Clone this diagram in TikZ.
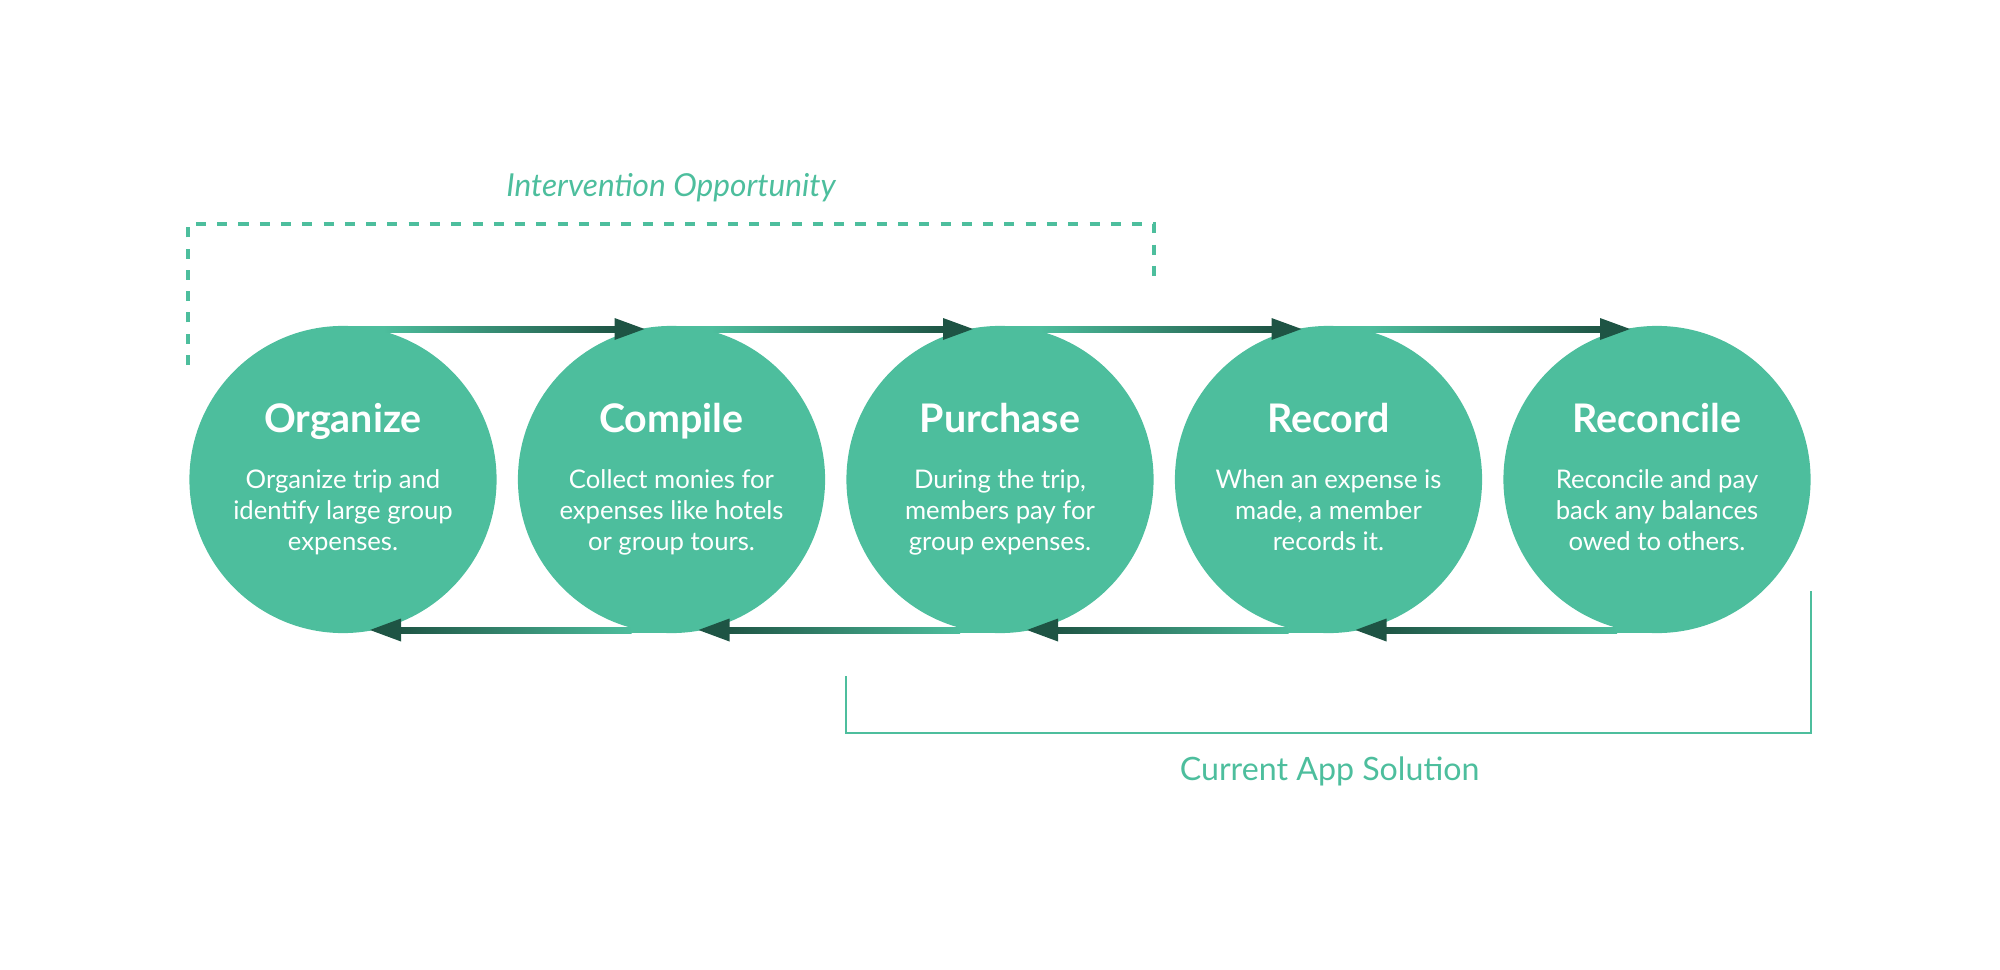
\documentclass[tikz,border=0pt]{standalone}
\usepackage{fontspec}
\setmainfont{Lato}
\usetikzlibrary{calc}
\definecolor{circ}{RGB}{77,190,157}
\definecolor{dark}{RGB}{30,84,68}
\begin{document}
\begin{tikzpicture}[x=0.01cm, y=-0.01cm,
  stage/.style={circle, fill=circ, minimum size=3.07cm, inner sep=0pt},
  ttl/.style={text=white, font=\fontsize{11.2pt}{13pt}\selectfont\bfseries, anchor=base, inner sep=0pt},
  body/.style={text=white, font=\fontsize{7.3pt}{8.8pt}\selectfont, align=center, anchor=north, inner sep=0pt},
  lbl/.style={text=circ, anchor=base, inner sep=0pt},
  bracket/.style={draw=circ, line width=0.8pt},
  dashbracket/.style={draw=circ, line width=1pt, dash pattern=on 2.85pt off 3.2pt}
]
\useasboundingbox (0,0) rectangle (2000,970);

% stages
\node[stage] (o) at (343,479.5) {};
\node[stage] (c) at (671.5,479.5) {};
\node[stage] (p) at (1000,479.5) {};
\node[stage] (r) at (1328.5,479.5) {};
\node[stage] (x) at (1657,479.5) {};

% arrows
\foreach \a/\b in {o/c, c/p, p/r, r/x} {
  \fill[circ] ($(\a.center)+(0,-153.5)$) rectangle ($(\a.center)+(40,-147.5)$);
  \shade[left color=circ, right color=dark] ($(\a.center)+(40,-153.5)$) rectangle ($(\b.center)+(-55,-147.5)$);
  \fill[dark] ($(\b.center)+(-27,-150.5)$) -- ($(\b.center)+(-57,-161.5)$) -- ($(\b.center)+(-57,-139.5)$) -- cycle;
  \fill[circ] ($(\b.center)+(-40,147.5)$) rectangle ($(\b.center)+(0,153.5)$);
  \shade[left color=dark, right color=circ] ($(\a.center)+(55,147.5)$) rectangle ($(\b.center)+(-40,153.5)$);
  \fill[dark] ($(\a.center)+(27,150.5)$) -- ($(\a.center)+(58,139)$) -- ($(\a.center)+(58,162)$) -- cycle;
}

% titles
\node[ttl] (ot) at ($(o.center)+(0,-47.5)$) {Organize};
\node[ttl] (ct) at ($(c.center)+(0,-47.5)$) {Compile};
\node[ttl] (pt) at ($(p.center)+(0,-47.5)$) {Purchase};
\node[ttl] (rt) at ($(r.center)+(0,-47.5)$) {Record};
\node[ttl] (xt) at ($(x.center)+(0,-47.5)$) {Reconcile};

% bodies
\node[body] (ob) at ($(o.center)+(0,-11.5)$) {\rule{0pt}{0.2cm}Organize trip and\\identify large group\\expenses.};
\node[body] (cb) at ($(c.center)+(0,-11.5)$) {\rule{0pt}{0.2cm}Collect monies for\\expenses like hotels\\or group tours.};
\node[body] (pb) at ($(p.center)+(0,-11.5)$) {\rule{0pt}{0.2cm}During the trip,\\members pay for\\group expenses.};
\node[body] (rb) at ($(r.center)+(0,-11.5)$) {\rule{0pt}{0.2cm}When an expense is\\made, a member\\records it.};
\node[body] (xb) at ($(x.center)+(0,-11.5)$) {\rule{0pt}{0.2cm}Reconcile and pay\\back any balances\\owed to others.};

% brackets
\coordinate (d1) at (188,365);
\coordinate (d2) at (188,224);
\coordinate (d3) at (1154,224);
\coordinate (d4) at (1154,282);
\draw[dashbracket] (d1) -- (d2) -- (d3) -- (d4);
\node[lbl, font=\fontsize{9pt}{11pt}\selectfont\itshape] (io) at (671,196.7) {Intervention Opportunity};

\coordinate (s1) at (846,676);
\coordinate (s2) at (846,733);
\coordinate (s3) at (1811,733);
\coordinate (s4) at (1811,591);
\draw[bracket] (s1) -- (s2) -- (s3) -- (s4);
\node[lbl, font=\fontsize{9.15pt}{11pt}\selectfont] (cas) at (1329.6,780) {Current App Solution};
\end{tikzpicture}
\end{document}
